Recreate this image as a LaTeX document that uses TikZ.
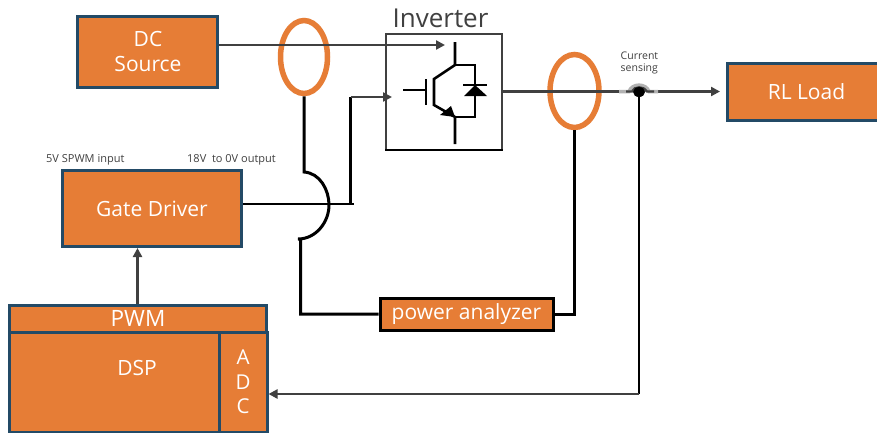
\documentclass[tikz,border=0pt]{standalone}
\usepackage{fontspec}
\setmainfont{Open Sans}
\usetikzlibrary{arrows.meta,shapes.geometric}
\definecolor{boxorange}{HTML}{E67D36}
\definecolor{boxedge}{HTML}{234A66}
\definecolor{wire}{HTML}{404040}
\definecolor{lbl}{HTML}{404040}
\tikzset{
  x=1pt,y=-1pt,
  block/.style={draw=boxedge,line width=3pt,fill=boxorange,text=white,align=center,inner sep=0pt,font=\fontsize{21}{25}\selectfont},
  wirearrow/.style={draw=wire,line width=2.4pt,-{Triangle[length=9pt,width=9pt]}},
  wireplain/.style={draw=wire,line width=2.4pt},
  blk/.style={draw=black,line width=3pt},
  ring/.style={draw=boxorange,line width=5.5pt},
  small/.style={text=lbl,inner sep=0pt,font=\fontsize{11}{13}\selectfont},
  igbt/.style={draw=black,line width=2.6pt},
  outerbox/.style={draw=wire,line width=2.4pt}
}
\begin{document}
\begin{tikzpicture}
\useasboundingbox (0,0) rectangle (877,432);
\clip (0,0) rectangle (877,432);
\fill[white] (0,0) rectangle (877,432);
% blocks
\node[block,minimum width=140pt,minimum height=71pt] (dc) at (147,52) {};
\node[text=white,align=center,inner sep=0pt,font=\fontsize{21}{25}\selectfont] (dclbl) at (148,51.5) {DC\\Source};
\node[block,minimum width=179pt,minimum height=76pt] (gd) at (152,208.5) {Gate Driver};
\node[block,minimum width=159pt,minimum height=57pt] (rl) at (806.5,92) {RL Load};
\node[block,minimum width=257pt,minimum height=27pt,font=\fontsize{22.5}{25}\selectfont] (pwm) at (138,318.5) {PWM};
\node[block,minimum width=210pt,minimum height=100pt] (dsp) at (114,382) {};
\node[text=white,inner sep=0pt,font=\fontsize{21}{25}\selectfont] (dsplbl) at (137,368) {DSP};
\node[block,minimum width=48pt,minimum height=100pt,font=\fontsize{20.5}{24.5}\selectfont] (adc) at (243,382) {A\\D\\C};
\node[draw=black,line width=3pt,fill=boxorange,text=white,inner sep=0pt,minimum width=173pt,minimum height=32pt,font=\fontsize{21}{25}\selectfont] (pa) at (466.5,314.5) {power analyzer};
% inverter
\draw[outerbox] (386,150) -- (386,34) -- (502,34) -- (502,150);
\draw[draw=black,line width=2.8pt] (385,150) -- (503,150);
\node[inner sep=0pt,text=lbl,font=\fontsize{26}{30}\selectfont] (invlbl) at (440.5,18) {Inverter};
% IGBT
\draw[igbt] (455,42) -- (455,65) -- (434,79) -- (434,105) -- (455,117) -- (455,144);
\draw[igbt] (455,65) -- (475,65) -- (475,117) -- (455,117);
\draw[igbt] (403,90) -- (425,90);
\draw[igbt] (426,79) -- (426,105);
\draw[draw=black,line width=2.2pt] (463,85) -- (487,85);
\fill[black] (475,85) -- (464,96) -- (487,96) -- cycle;
\fill[black] (455,117) -- (440,115) -- (451,106) -- cycle;
% rings
\node[ring,ellipse,minimum width=47pt,minimum height=73pt,inner sep=0pt] (r1) at (304,57) {};
\node[ring,ellipse,minimum width=49pt,minimum height=73pt,inner sep=0pt] (r2) at (574.5,91) {};
% power wires
\coordinate (dcin) at (445,45);
\draw[wirearrow] (dc.east |- dcin) -- (dcin);
\coordinate (invg) at (392,97);
\coordinate (invoutA) at (502,91.5);
\coordinate (invout) at (630,91.5);
\draw[wireplain] (invoutA) -- (invout);
\coordinate (sensR) at (650,91.5);
\coordinate (rlin) at (720,91.5);
\draw[wirearrow] (sensR) -- (rlin);
% current sensing
\draw[draw=gray!60,line width=3.5pt] (619,91.5) -- (629,91.5) .. controls (632,83) and (646,83) .. (649,91.5) -- (658,91.5);
\draw[wireplain] (626,91.5) -- (632,91.5) .. controls (634,86) and (644,86) .. (647,91.5) -- (654,91.5);
\node[small,font=\fontsize{10.5}{12}\selectfont,align=left,anchor=north west] (cs) at (620.5,51.5) {Current\\sensing};
\coordinate (sdot) at (639,92);
\fill[black] (sdot) ellipse [x radius=6pt,y radius=5pt];
% black wires
\coordinate (g1) at (354,204);
\coordinate (g3) at (350.5,204);
\coordinate (g2) at (350.5,97);
\draw[blk,line width=2.8pt] (gd.east |- g1) -- (g1);
\draw[blk,line width=2.8pt] (g3) -- (g2);
\draw[wirearrow] (g2) -- (invg);
\coordinate (a1) at (304,172);
\coordinate (a2) at (298,239);
\coordinate (a3) at (300.5,314);
\coordinate (r2d) at (574.5,314);
\draw[blk] (r1.south) -- (a1) .. controls (320,173) and (329,190) .. (329,205) .. controls (329,222) and (316,239) .. (a2) -- (300.5,239) -- (a3) -- (a3 -| pa.west);
\draw[blk] (r2d -| pa.east) -- (r2d) -- (r2.south);
\coordinate (adcin) at (639,394);
\draw[blk,line width=2.8pt] (sdot) -- (adcin);
\draw[wirearrow] (adcin) -- (adc.east |- adcin);
\draw[wirearrow,line width=3pt] (pwm.north -| 137.5,0) -- (gd.south -| 137.5,0);
% top labels
\node[small,anchor=west] (sp) at (46,160) {5V SPWM input};
\node[small,anchor=west] (vo) at (187,160) {18V\ \ to 0V output};
\end{tikzpicture}
\end{document}
